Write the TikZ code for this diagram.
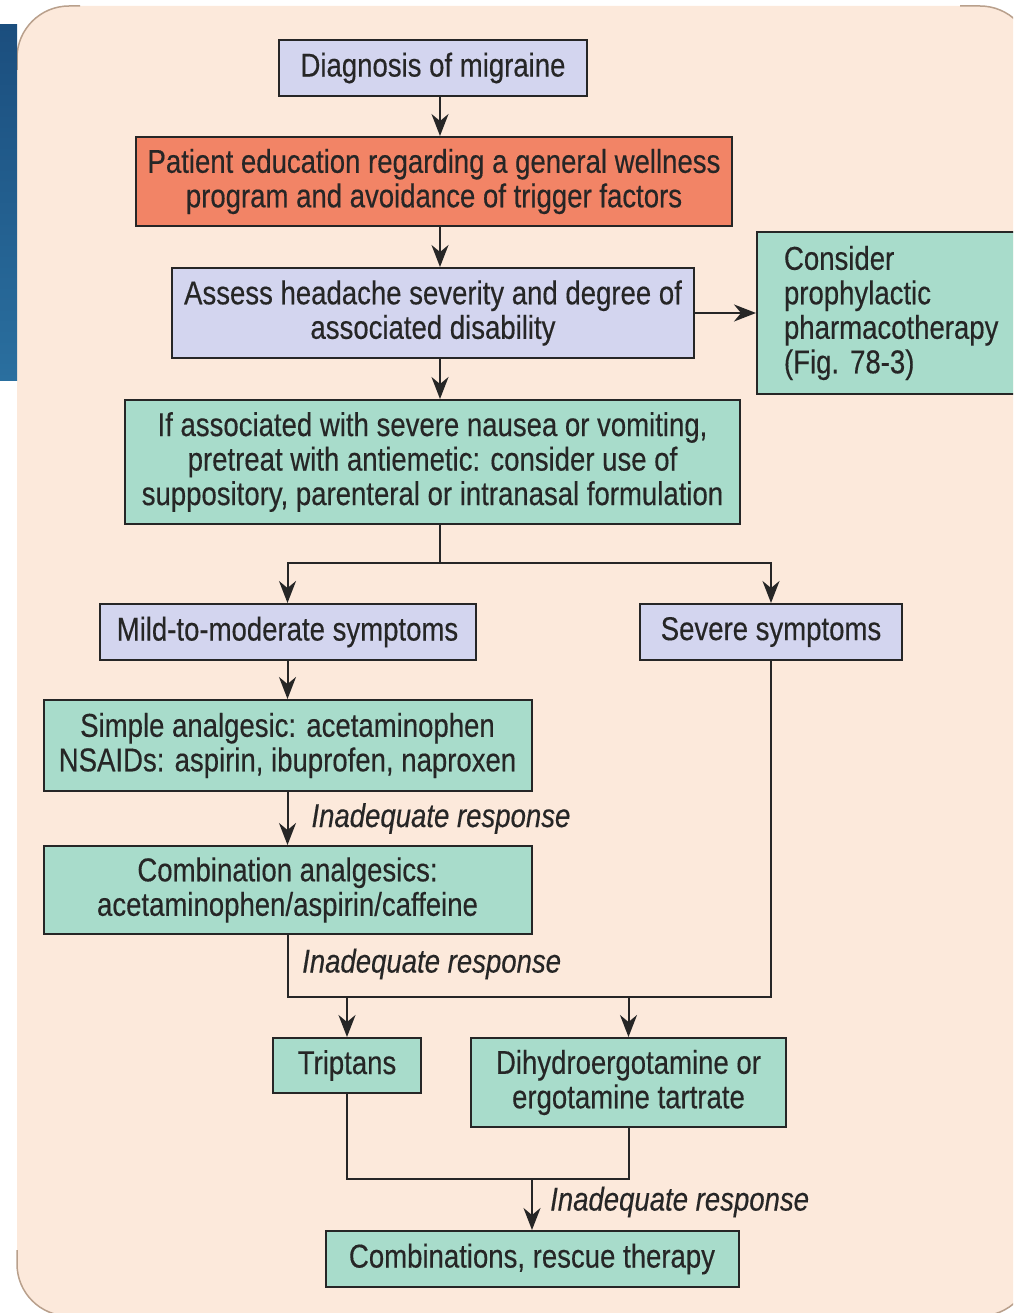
\documentclass[tikz,border=0pt]{standalone}
\usepackage{fontspec}
\setmainfont[FakeStretch=0.835, FakeBold=0.35]{Liberation Sans}
\usetikzlibrary{arrows.meta}
\definecolor{peach}{HTML}{FCE9DB}
\definecolor{lav}{HTML}{D3D5EF}
\definecolor{orng}{HTML}{F28466}
\definecolor{teal}{HTML}{A8DCCB}
\definecolor{ink}{HTML}{262626}
\definecolor{edge}{HTML}{B9A08C}
\definecolor{bluetop}{HTML}{1B4E7E}
\definecolor{bluebot}{HTML}{2A6F9F}
\tikzset{
  box/.style={draw=ink, line width=2pt, inner sep=0pt, align=center, text=ink,
    font=\fontsize{33}{34.5}\selectfont},
  lavbox/.style={box, fill=lav},
  tealbox/.style={box, fill=teal},
  orbox/.style={box, fill=orng},
  conn/.style={draw=ink, line width=2pt},
  arr/.style={conn, -{Stealth[length=22pt,width=17pt,inset=7pt]}},
  lbl/.style={text=ink, inner sep=0pt, font=\fontsize{33}{34.5}\selectfont\itshape}
}
\begin{document}
\begin{tikzpicture}[x=1pt,y=-1pt]
\useasboundingbox (0,0) rectangle (1013,1313);
\clip (0,0) rectangle (1013,1313);
% background panel
\fill[peach, rounded corners=52pt] (17,6) rectangle (1032,1316);
\begin{scope}
  \clip (0,0) rectangle (80,70) (0,1250) rectangle (80,1313) (960,0) rectangle (1013,70) (960,1250) rectangle (1013,1313);
  \draw[edge, line width=1.5pt, rounded corners=52pt] (17,6) rectangle (1032,1316);
\end{scope}
% blue bar
\shade[top color=bluetop, bottom color=bluebot] (0,25) rectangle (17,380);

% nodes
\node[lavbox, minimum width=308pt, minimum height=56pt] (diag) at (433,68) {Diagnosis of migraine};
\node[orbox, minimum width=596pt, minimum height=89pt] (edu) at (434,181.5)
  {Patient education regarding a general wellness\\program and avoidance of trigger factors};
\node[lavbox, minimum width=522pt, minimum height=90pt] (assess) at (433,313)
  {Assess headache severity and degree of\\associated disability};
\node[tealbox, minimum width=276pt, minimum height=162pt, align=left, text width=222pt, inner xsep=27pt, anchor=west] (consider) at (756,313)
  {Consider\\prophylactic\\pharmacotherapy\\(Fig.\ 78-3)};
\node[tealbox, minimum width=615pt, minimum height=124pt] (anti) at (432.5,462)
  {If associated with severe nausea or vomiting,\\pretreat with antiemetic: consider use of\\suppository, parenteral or intranasal formulation};
\node[lavbox, minimum width=376pt, minimum height=56pt] (mild) at (287.5,632) {Mild-to-moderate symptoms};
\node[lavbox, minimum width=262pt, minimum height=56pt] (severe) at (771,632) {Severe symptoms};
\node[tealbox, minimum width=488pt, minimum height=91pt] (simple) at (287.5,745.5)
  {Simple analgesic: acetaminophen\\NSAIDs: aspirin, ibuprofen, naproxen};
\node[tealbox, minimum width=488pt, minimum height=88pt] (combo) at (287.5,890)
  {Combination analgesics:\\acetaminophen/aspirin/caffeine};
\node[tealbox, minimum width=148pt, minimum height=55pt] (trip) at (347,1065.5) {Triptans};
\node[tealbox, minimum width=315pt, minimum height=89pt] (dhe) at (628.5,1082.5)
  {Dihydroergotamine or\\ergotamine tartrate};
\node[tealbox, minimum width=413pt, minimum height=56pt] (rescue) at (532,1259) {Combinations, rescue therapy};

% helper coordinates
\coordinate (ax) at (440,0);
\coordinate (sp) at (440,563);
\coordinate (jy) at (0,997);
\coordinate (ky) at (0,1179);

% connectors
\draw[arr] (diag.south -| ax) -- (edu.north -| ax);
\draw[arr] (edu.south -| ax) -- (assess.north -| ax);
\draw[arr] (assess.south -| ax) -- (anti.north -| ax);
\draw[arr] (assess.east) -- (consider.west);
\draw[conn] (anti.south -| ax) -- (sp);
\draw[arr] (sp) -| (mild.north);
\draw[arr] (sp) -| (severe.north);
\draw[arr] (mild.south) -- (simple.north);
\draw[arr] (simple.south) -- (combo.north)
  node[lbl, midway, right, xshift=23pt] (l1) {Inadequate response};
\draw[conn] (combo.south) |- (severe.south |- jy) -- (severe.south);
\node[lbl, anchor=west] (l2) at (302,964) {Inadequate response};
\draw[arr] (trip.north |- jy) -- (trip.north);
\draw[arr] (dhe.north |- jy) -- (dhe.north);
\draw[conn] (trip.south) |- (dhe.south |- ky) -- (dhe.south);
\draw[arr] (rescue.north |- ky) -- (rescue.north);
\node[lbl, anchor=west] (l3) at (550,1202) {Inadequate response};
\end{tikzpicture}
\end{document}
